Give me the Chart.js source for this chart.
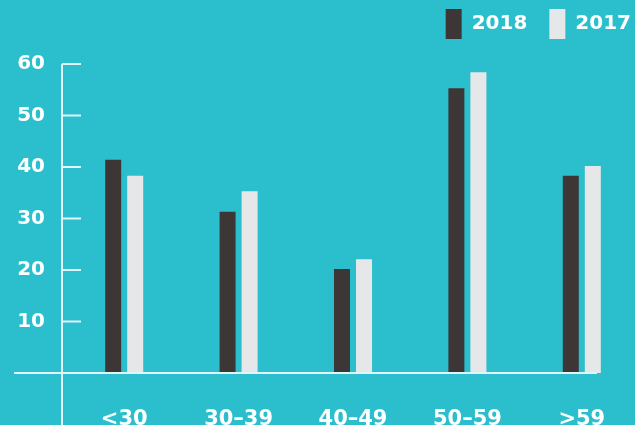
<!DOCTYPE html>
<html>
<head>
<meta charset="utf-8">
<script src="https://cdn.jsdelivr.net/npm/chart.js@4/dist/chart.umd.min.js"></script>
<style>
  html, body { margin: 0; padding: 0; background: #2BBFCD; overflow: hidden; width: 635px; height: 425px; }
  #wrap { position: absolute; left: 0; top: 0; width: 660px; height: 425px; }
</style>
</head>
<body>
<div id="wrap"><canvas id="c" width="660" height="425"></canvas></div>
<script>
const categories = ['<30', '30–39', '40–49', '50–59', '>59'];
const values2018 = [41.4, 31.3, 20.2, 55.3, 38.3];
const values2017 = [38.3, 35.3, 22.1, 58.4, 40.2];
const yTicks = [10, 20, 30, 40, 50, 60];

const TEAL = '#2BBFCD';
const DARK = '#3D3637';
const LIGHT = '#E6E7E9';
const LINE = '#E4F4F6';
const FONT = '"DejaVu Sans"';

const legendSpacing = {
  id: 'legendSpacing',
  beforeInit(chart) {
    const fit = chart.legend.fit;
    chart.legend.fit = function () { fit.call(this); this.height += 15; };
  },
  afterLayout(chart) {
    chart.legend.right += 14;
    chart.legend.width += 14;
  }
};

const axisLines = {
  id: 'axisLines',
  afterDatasetsDraw(chart) {
    const { ctx, chartArea, scales: { y } } = chart;
    const y0 = y.getPixelForValue(0);
    const yTop = y.getPixelForValue(yTicks[yTicks.length - 1]);
    const ax = chartArea.left - 5;
    ctx.save();
    ctx.strokeStyle = LINE;
    ctx.lineWidth = 2;
    ctx.beginPath();
    ctx.moveTo(14, y0); ctx.lineTo(597, y0);
    ctx.moveTo(ax, yTop); ctx.lineTo(ax, 425);
    yTicks.forEach(v => {
      const py = y.getPixelForValue(v);
      ctx.moveTo(ax, py); ctx.lineTo(ax + 19, py);
    });
    ctx.stroke();
    ctx.restore();
  }
};

new Chart(document.getElementById('c'), {
  type: 'bar',
  data: {
    labels: categories,
    datasets: [
      { label: '2018', data: values2018, backgroundColor: DARK, barPercentage: 0.727, categoryPercentage: 0.385 },
      { label: '2017', data: values2017, backgroundColor: LIGHT, barPercentage: 0.727, categoryPercentage: 0.385 }
    ]
  },
  options: {
    responsive: false,
    animation: false,
    devicePixelRatio: 1,
    layout: { padding: { left: 0, right: 21, top: -13, bottom: 0 } },
    plugins: {
      legend: {
        position: 'top',
        align: 'end',
        labels: {
          boxWidth: 16,
          boxHeight: 30,
          padding: 22,
          color: '#FFFFFF',
          font: { family: FONT, size: 20, weight: 'bold' }
        }
      },
      tooltip: { enabled: false },
      title: { display: false }
    },
    scales: {
      x: {
        grid: { display: false },
        border: { display: false },
        ticks: { color: '#FFFFFF', padding: 26, font: { family: FONT, size: 21, weight: 'bold' } },
        afterFit(s) { s.height = 52; }
      },
      y: {
        min: 0,
        max: 60,
        grid: { display: false, drawTicks: false },
        border: { display: false },
        ticks: {
          stepSize: 10,
          padding: 22,
          color: '#FFFFFF',
          font: { family: FONT, size: 20, weight: 'bold' },
          callback: (v) => (v === 0 ? '' : v)
        },
        afterFit(s) { s.width = 67; }
      }
    }
  },
  plugins: [legendSpacing, axisLines]
});
</script>
</body>
</html>
